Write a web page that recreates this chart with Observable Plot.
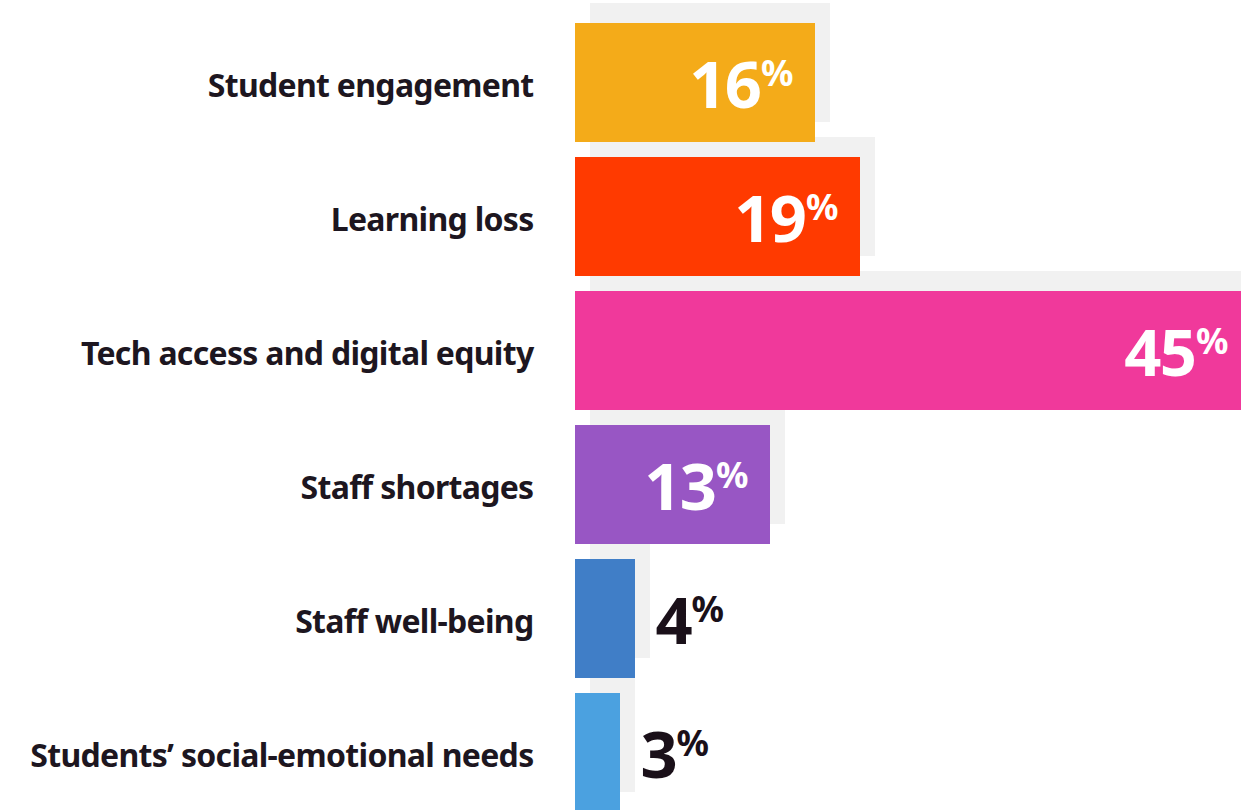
<!DOCTYPE html>
<html>
<head>
<meta charset="utf-8">
<script src="https://cdn.jsdelivr.net/npm/d3@7"></script>
<script src="https://cdn.jsdelivr.net/npm/@observablehq/plot@0.6"></script>
<style>
  html, body { margin: 0; padding: 0; background: #fff; overflow: hidden; }
  #chart svg { display: block; }
</style>
</head>
<body>
<div id="chart"></div>
<script>
const categories = [
  "Student engagement",
  "Learning loss",
  "Tech access and digital equity",
  "Staff shortages",
  "Staff well-being",
  "Students’ social-emotional needs"
];
const values = [16, 19, 45, 13, 4, 3];
const colors = ["#f4ab19", "#ff3a00", "#f0399b", "#9856c4", "#407ec7", "#4ba1e0"];

const data = categories.map((c, i) => ({category: c, value: values[i], color: colors[i]}));
const inside = data.filter(d => d.value >= 10);
const outside = data.filter(d => d.value < 10);

const font = "'Noto Sans', 'Open Sans', sans-serif";

const chart = Plot.plot({
  width: 1241,
  height: 815,
  marginTop: 20,
  marginBottom: 0,
  marginLeft: 575,
  marginRight: 0,
  style: {fontFamily: font, overflow: "hidden", background: "#fff"},
  x: {domain: [0, 44.4], axis: null},
  y: {domain: categories, axis: null, paddingInner: 0.111, paddingOuter: 0},
  color: {type: "identity"},
  marks: [
    Plot.barX(data, {x: "value", y: "category", fill: "#f1f1f1", dx: 15, dy: -20}),
    Plot.barX(data, {x: "value", y: "category", fill: "color"}),
    Plot.text(data, {x: 0, y: "category", text: "category", textAnchor: "end", dx: -42, dy: 4,
      fontSize: 32, fontWeight: 700, fill: "#1d1620"}),
    Plot.text(inside, {x: "value", y: "category", text: d => String(d.value), textAnchor: "end",
      dx: -55, dy: 4, fontSize: 65, fontWeight: 700, fill: "#ffffff"}),
    Plot.text(inside, {x: "value", y: "category", text: () => "%", textAnchor: "end",
      dx: -22, dy: -9, fontSize: 36, fontWeight: 700, fill: "#ffffff"}),
    Plot.text(outside, {x: "value", y: "category", text: d => String(d.value), textAnchor: "start",
      dx: 20, dy: 4, fontSize: 65, fontWeight: 700, fill: "#1a1019"}),
    Plot.text(outside, {x: "value", y: "category", text: () => "%", textAnchor: "start",
      dx: 56, dy: -9, fontSize: 36, fontWeight: 700, fill: "#1a1019"})
  ]
});
d3.select(chart).selectAll("text")
  .filter(function() { return categories.includes(this.textContent); })
  .attr("letter-spacing", "-0.7")
  .style("letter-spacing", "-0.7px");
d3.select(chart).selectAll("text")
  .filter(function() { return /^\d+$/.test(this.textContent); })
  .attr("letter-spacing", "-1.5")
  .style("letter-spacing", "-1.5px");
document.getElementById("chart").appendChild(chart);
</script>
</body>
</html>
